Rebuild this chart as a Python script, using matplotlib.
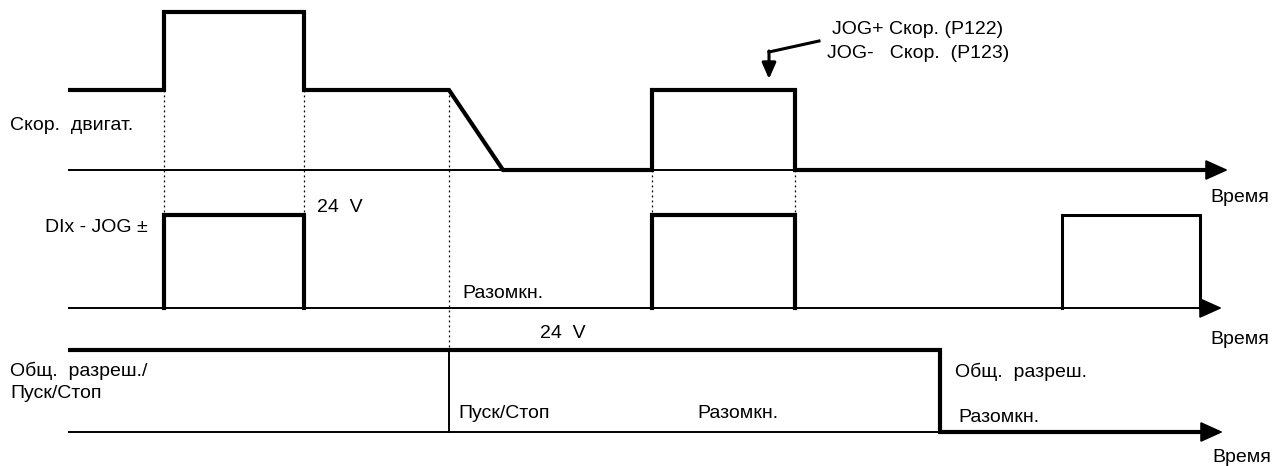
import matplotlib
matplotlib.use("Agg")
import matplotlib.pyplot as plt

plt.rcParams['font.family'] = ['Liberation Sans', 'DejaVu Sans']

# ---- data (time axis in drawing units, levels in drawing units; y grows downward) ----
t_start = 68
# Row 1: motor speed
speed_t = [68, 164, 164, 304, 304, 449, 503, 652, 652, 795, 795, 1212]
speed_y = [90, 90, 12, 12, 90, 90, 170, 170, 90, 90, 170, 170]
row1_base, row1_end = 170, 1228
# Row 2: DIx - JOG +/- pulses (rise, fall)
jog_pulses = [(164, 304), (652, 795), (1062, 1200)]
row2_base, row2_high, row2_end = 308, 215, 1222
# Row 3: general enable / start-stop
en_t = [68, 940, 940, 1210]
en_y = [350, 350, 432, 432]
row3_base, row3_end = 432, 1223
stop_t = 449
# dotted guide lines: (x, y_top, y_bottom)
guides = [(164, 90, 215), (304, 90, 215), (449, 90, 350), (652, 170, 215), (795, 170, 215)]

labels = [
    (10, 125, "Скор.  двигат."),
    (45, 228, "DIx - JOG ±"),
    (317, 208, "24  V"),
    (462, 293, "Разомкн."),
    (540, 333, "24  V"),
    (10, 371, "Общ.  разреш./"),
    (10, 393, "Пуск/Стоп"),
    (458, 413, "Пуск/Стоп"),
    (697, 413, "Разомкн."),
    (955, 372, "Общ.  разреш."),
    (958, 417, "Разомкн."),
    (832, 30, "JOG+ Скор. (P122)"),
    (827, 53, "JOG-   Скор.  (P123)"),
    (1210, 197, "Время"),
    (1210, 340, "Время"),
    (1212, 457, "Время"),
]

fig = plt.figure(figsize=(12.74, 4.66), dpi=100)
ax = fig.add_axes([0, 0, 1, 1])
ax.set_xlim(0, 1274)
ax.set_ylim(466, 0)
ax.axis('off')

K = 'black'
thick, mid, thin = 3.0, 2.2, 1.4

def arrow_axis(x0, x1, y, lw):
    ax.plot([x0, x1 - 14], [y, y], color=K, lw=lw, solid_capstyle='butt')
    ax.annotate('', xy=(x1, y), xytext=(x1 - 16, y),
                arrowprops=dict(arrowstyle='-|>,head_length=1.0,head_width=0.45',
                                color=K, lw=lw, shrinkA=0, shrinkB=0, mutation_scale=14))

# Row 1
arrow_axis(t_start, row1_end, row1_base, thin)
ax.plot(speed_t, speed_y, color=K, lw=thick, solid_joinstyle='miter', solid_capstyle='butt')

# Row 2
arrow_axis(t_start, row2_end, row2_base, thin)
for i, (a, b) in enumerate(jog_pulses):
    ax.plot([a, a, b, b], [row2_base, row2_high, row2_high, row2_base],
            color=K, lw=thick if i < 2 else mid, solid_joinstyle='miter')

# Row 3
arrow_axis(t_start, row3_end, row3_base, thin)
ax.plot(en_t, en_y, color=K, lw=thick, solid_joinstyle='miter', solid_capstyle='butt')
ax.plot([stop_t, stop_t], [350, 432], color=K, lw=thin)

# dotted guides
for x, y0, y1 in guides:
    ax.plot([x, x], [y0, y1], color=K, lw=0.9, ls=(0, (1.5, 2.5)))

# JOG annotation arrow
ax.plot([819, 769], [41, 52], color=K, lw=2.2)
ax.annotate('', xy=(769, 79), xytext=(769, 51),
            arrowprops=dict(arrowstyle='-|>,head_length=0.8,head_width=0.35',
                            color=K, lw=2.2, shrinkA=0, shrinkB=0, mutation_scale=12))

for x, y, s in labels:
    ax.text(x, y, s, ha='left', va='center', fontsize=14, color=K)

fig.savefig('out.png', dpi=100)
